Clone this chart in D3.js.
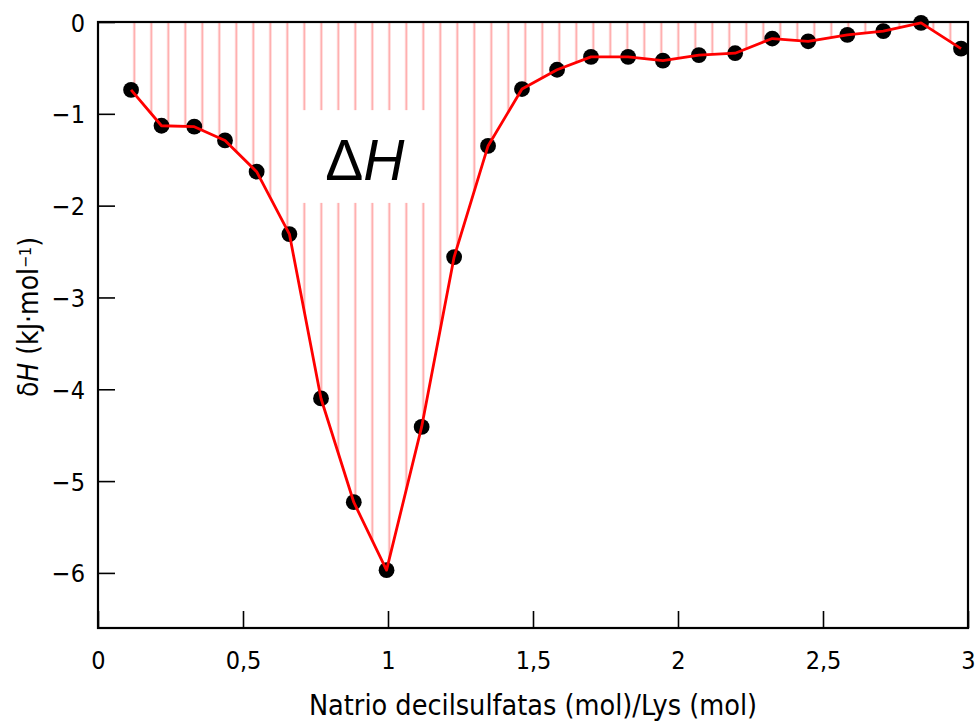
<!DOCTYPE html>
<html>
<head>
<meta charset="utf-8">
<script src="https://cdn.jsdelivr.net/npm/d3@7"></script>
<style>
  body { margin: 0; background: #fff; }
  svg text { font-family: "DejaVu Sans Condensed", "DejaVu Sans", sans-serif; fill: #000; }
</style>
</head>
<body>
<div id="chart"></div>
<script>
// ratio natrio decilsulfatas / Lys (mol/mol)
const ratio = [0.114, 0.219, 0.332, 0.438, 0.547, 0.660, 0.769, 0.882, 0.995, 1.116,
  1.228, 1.345, 1.462, 1.583, 1.700, 1.828, 1.948, 2.072, 2.197, 2.325,
  2.449, 2.584, 2.708, 2.838, 2.976];
// dH, kJ/mol
const dH = [-0.74, -1.13, -1.14, -1.29, -1.63, -2.31, -4.10, -5.23, -5.97, -4.41,
  -2.56, -1.35, -0.73, -0.52, -0.38, -0.38, -0.42, -0.36, -0.34, -0.18,
  -0.21, -0.14, -0.10, -0.01, -0.29];
const xTicks = [0, 0.5, 1, 1.5, 2, 2.5, 3];
const yTicks = [0, -1, -2, -3, -4, -5, -6];

const width = 977;
const height = 722;
const margin = { top: 22, right: 9, bottom: 94, left: 98 };

const points = ratio.map((r, i) => ({ x: r, h: dH[i] }));

const x = d3.scaleLinear()
    .domain([0, 3])
    .range([margin.left, width - margin.right]);

const y = d3.scaleLinear()
    .domain([-6.6, 0])
    .range([height - margin.bottom, margin.top]);

const fmt = d => String(d).replace('.', ',');

const svg = d3.select('#chart').append('svg')
    .attr('width', width)
    .attr('height', height);

// hatch pattern for the area between 0 and the curve
const defs = svg.append('defs');
defs.append('pattern')
    .attr('id', 'hatch')
    .attr('patternUnits', 'userSpaceOnUse')
    .attr('x', 125.8)
    .attr('y', 0)
    .attr('width', 17)
    .attr('height', 20)
  .append('line')
    .attr('x1', 8.5).attr('x2', 8.5)
    .attr('y1', 0).attr('y2', 20)
    .attr('stroke', '#ffa6a6')
    .attr('stroke-width', 1.9);

const area = d3.area()
    .x(d => x(d.x))
    .y0(y(0))
    .y1(d => y(d.h));

svg.append('path')
    .datum(points)
    .attr('d', area)
    .attr('fill', 'url(#hatch)');

// label box
svg.append('rect')
    .attr('x', x(0.681))
    .attr('y', y(-0.96))
    .attr('width', x(1.15) - x(0.681))
    .attr('height', y(-1.97) - y(-0.96))
    .attr('fill', '#fff');

const lbl = svg.append('text')
    .attr('x', x(0.92))
    .attr('y', y(-1.72))
    .attr('text-anchor', 'middle')
    .style('font-family', '"Liberation Sans", Arial, sans-serif')
    .style('font-size', '57px');
lbl.append('tspan').text('Δ');
lbl.append('tspan').style('font-style', 'italic').text('H');

// axes
const xAxis = svg.append('g')
    .attr('transform', `translate(0,${y.range()[0]})`);
xAxis.call(d3.axisBottom(x).tickValues(d3.range(0, 3.001, 0.1)).tickSize(-9).tickFormat(''));
xAxis.call(d3.axisBottom(x).tickValues(xTicks).tickSize(-17).tickPadding(0).tickFormat(fmt));

const yAxis = svg.append('g')
    .attr('transform', `translate(${margin.left},0)`);
yAxis.call(d3.axisLeft(y).tickValues(d3.range(-6.6, 0.001, 0.2)).tickSize(-10).tickFormat(''));
yAxis.call(d3.axisLeft(y).tickValues(yTicks).tickSize(-17).tickPadding(0).tickFormat(d3.format('d')));

svg.selectAll('.domain').remove();
svg.selectAll('.tick line').attr('stroke', '#000').attr('stroke-width', 1.6);

xAxis.selectAll('.tick text')
    .attr('y', 23)
    .attr('dy', '0.71em')
    .style('font-size', '25px');

yAxis.selectAll('.tick text')
    .attr('x', -13)
    .attr('dy', '0.36em')
    .style('font-size', '25px');

// frame
svg.append('rect')
    .attr('x', x(0))
    .attr('y', y(0))
    .attr('width', x(3) - x(0))
    .attr('height', y(-6.6) - y(0))
    .attr('fill', 'none')
    .attr('stroke', '#000')
    .attr('stroke-width', 2.2);

// points, then the red curve on top
svg.selectAll('circle')
    .data(points)
  .enter().append('circle')
    .attr('cx', d => x(d.x))
    .attr('cy', d => y(d.h))
    .attr('r', 7.9)
    .attr('fill', '#000');

svg.append('path')
    .datum(points)
    .attr('d', d3.line().x(d => x(d.x)).y(d => y(d.h)))
    .attr('fill', 'none')
    .attr('stroke', '#ff0000')
    .attr('stroke-width', 2.8)
    .attr('stroke-linejoin', 'round');

// titles
svg.append('text')
    .attr('x', (x(0) + x(3)) / 2)
    .attr('y', 715)
    .attr('text-anchor', 'middle')
    .style('font-size', '28.5px')
    .text('Natrio decilsulfatas (mol)/Lys (mol)');

const yt = svg.append('text')
    .attr('transform', `translate(38,${(y(0) + y(-6.6)) / 2 - 8}) rotate(-90)`)
    .attr('text-anchor', 'middle')
    .style('font-size', '28px');
yt.append('tspan').text('δ');
yt.append('tspan').style('font-style', 'italic').text('H');
yt.append('tspan').text(' (kJ·mol');
yt.append('tspan').attr('dy', '-0.45em').style('font-size', '16px').text('−1');
yt.append('tspan').attr('dy', '0.28em').text(')');
</script>
</body>
</html>
